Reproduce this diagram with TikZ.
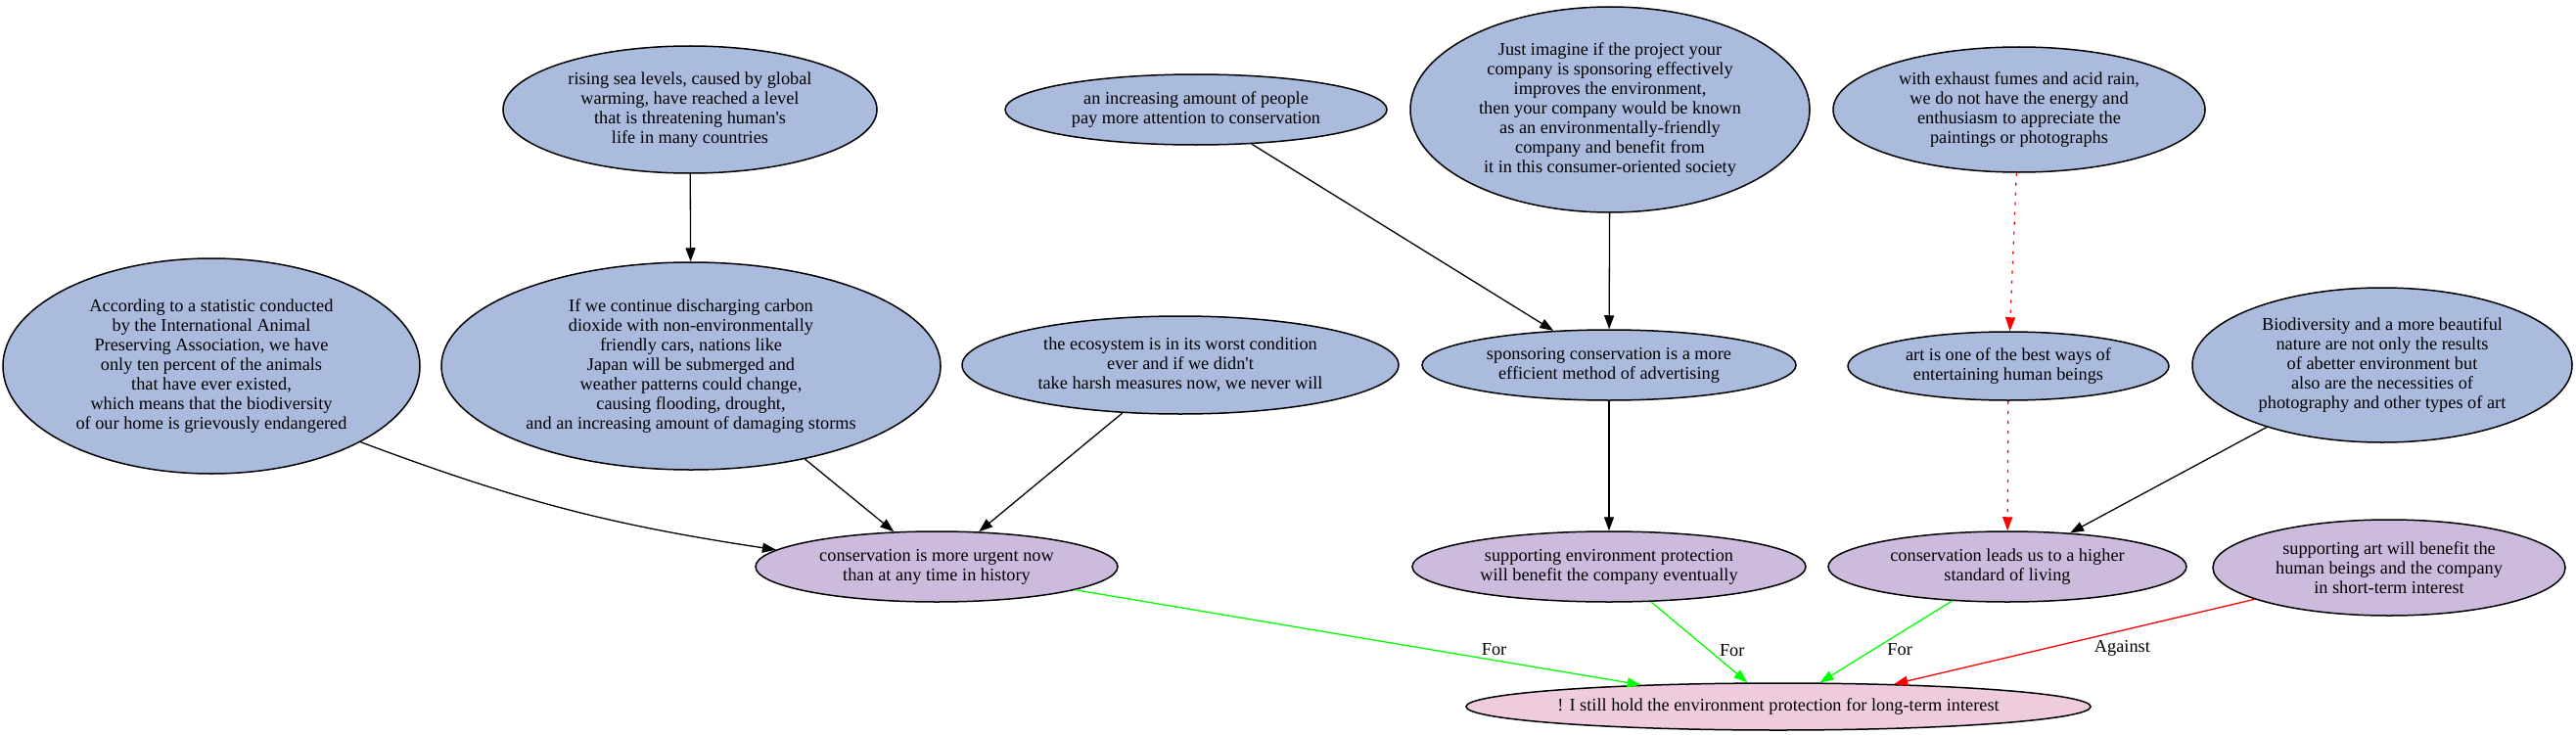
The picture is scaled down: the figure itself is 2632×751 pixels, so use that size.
\documentclass[tikz,border=0pt]{standalone}
\usepackage{fontspec}
\setmainfont{Liberation Serif}
\usepackage{tikz}
\usetikzlibrary{shapes, arrows.meta, positioning, calc}
\definecolor{argblue}{HTML}{AABBDD}
\definecolor{argpurple}{HTML}{CCBBDD}
\definecolor{argpink}{HTML}{EECCDD}

\begin{document}
\begin{tikzpicture}[
    x=1bp, y=-1bp,
    >={Triangle[length=14bp,width=10bp]},
    line width=1.3bp,
    font=\fontsize{18.3bp}{20bp}\selectfont,
    % ellipse styles for premises, sub-claims and the main claim
    arg/.style={ellipse, draw, line width=1.5bp, fill=argblue, align=center, inner sep=0pt},
    sub/.style={arg, fill=argpurple},
    main/.style={arg, fill=argpink},
    dims/.style 2 args={minimum width=#1bp, minimum height=#2bp},
    reddot/.style={red, dash pattern=on 3bp off 7bp},
    pro/.style={green},
    con/.style={red}
]
    \useasboundingbox (0,0) rectangle (2632,751);

    % --- ROW 1 ---
    \node (rise) [arg, dims={382}{130}] at (705,112) {rising sea levels, caused by global\\warming, have reached a level\\that is threatening human\textquotesingle s\\life in many countries};
    \node (people) [arg, dims={390}{72}] at (1222,112) {an increasing amount of people\\pay more attention to conservation};
    \node (imagine) [arg, dims={408}{210}] at (1645,112) {Just imagine if the project your\\company is sponsoring effectively\\improves the environment,\\then your company would be known\\as an environmentally-friendly\\company and benefit from\\it in this consumer-oriented society};
    \node (exhaust) [arg, dims={380}{128}] at (2063,112) {with exhaust fumes and acid rain,\\we do not have the energy and\\enthusiasm to appreciate the\\paintings or photographs};

    % --- ROW 2 ---
    \node (according) [arg, dims={426}{220}] at (216,374) {According to a statistic conducted\\by the International Animal\\Preserving Association, we have\\only ten percent of the animals\\that have ever existed,\\which means that the biodiversity\\of our home is grievously endangered};
    \node (continue) [arg, dims={510}{212}] at (706,374) {If we continue discharging carbon\\dioxide with non-environmentally\\friendly cars, nations like\\Japan will be submerged and\\weather patterns could change,\\causing flooding, drought,\\and an increasing amount of damaging storms};
    \node (ecosystem) [arg, dims={446}{100}] at (1206,373) {the ecosystem is in its worst condition\\ever and if we didn\textquotesingle t\\take harsh measures now, we never will};
    \node (sponsoring) [arg, dims={382}{72}] at (1644,373) {sponsoring conservation is a more\\efficient method of advertising};
    \node (art) [arg, dims={328}{70}] at (2052,374) {art is one of the best ways of\\entertaining human beings};
    \node (biodiv) [arg, dims={388}{158}] at (2434,373) {Biodiversity and a more beautiful\\nature are not only the results\\of abetter environment but\\also are the necessities of\\photography and other types of art};

    % --- ROW 3 ---
    \node (urgent) [sub, dims={370}{72}] at (957,579) {conservation is more urgent now\\than at any time in history};
    \node (supenv) [sub, dims={402}{72}] at (1644,579) {supporting environment protection\\will benefit the company eventually};
    \node (leads) [sub, dims={366}{72}] at (2051,579) {conservation leads us to a higher\\standard of living};
    \node (supart) [sub, dims={360}{98}] at (2441,580) {supporting art will benefit the\\human beings and the company\\in short-term interest};

    % --- CLAIM ---
    \node (claim) [main, dims={610}{48}] at (1817,722) {! I still hold the environment protection for long-term interest};

    % --- EDGES ---
    \draw[->] (rise) -- (continue);
    \draw[->] (people) -- (sponsoring);
    \draw[->] (imagine) -- (sponsoring);
    \draw[->, reddot] (exhaust) -- (art);
    \draw[->] (according.-27) to[bend right=6] (urgent.174);
    \draw[->] (continue) -- (urgent);
    \draw[->] (ecosystem) -- (urgent);
    \draw[->] (sponsoring) -- (supenv);
    \draw[->, reddot] (art) -- (leads);
    \draw[->] (biodiv) -- (leads);

    % --- EDGES TO CLAIM ---
    \draw[->, pro] (urgent) -- node[pos=0.73, above, xshift=6bp, black] {For} (claim.171);
    \draw[->, pro] (supenv) -- node[pos=0.6, right, xshift=7bp, black] {For} (claim.142);
    \draw[->, pro] (leads) -- node[pos=0.6, right, xshift=11bp, black] {For} (claim.30);
    \draw[->, con] (supart) -- node[pos=0.58, right=46bp, black] {Against} (claim.11);

\end{tikzpicture}
\end{document}
